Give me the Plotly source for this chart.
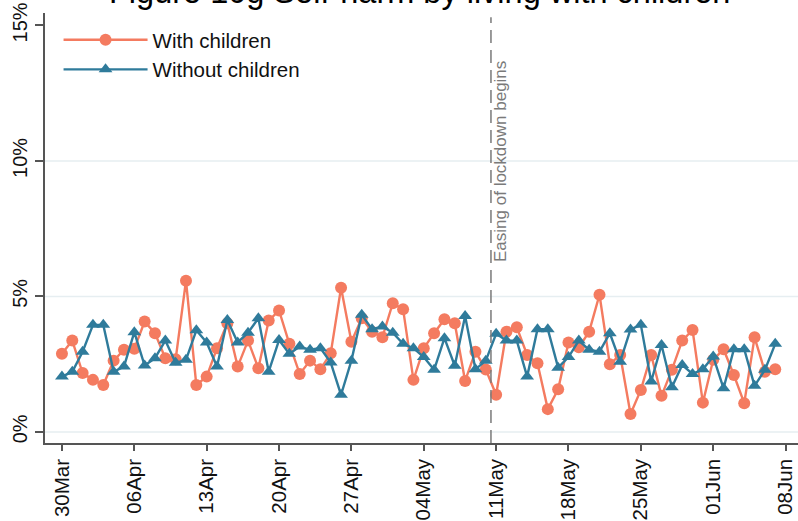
import pandas as pd
import plotly.graph_objects as go

start_date = "2020-03-30"
n_days = 70

with_children = [
    2.88, 3.37, 2.17, 1.92, 1.73, 2.63, 3.03, 3.07, 4.07, 3.64,
    2.72, 2.68, 5.58, 1.73, 2.04, 3.09, 4.01, 2.41, 3.37, 2.35,
    4.11, 4.48, 3.25, 2.14, 2.63, 2.31, 2.90, 5.32, 3.33, 4.19,
    3.70, 3.49, 4.75, 4.53, 1.92, 3.09, 3.64, 4.16, 4.01, 1.88,
    2.96, 2.30, 1.37, 3.70, 3.86, 2.84, 2.53, 0.84, 1.57, 3.30,
    3.12, 3.70, 5.06, 2.50, 2.84, 0.66, 1.55, 2.84, 1.33, 2.29,
    3.37, 3.76, 1.08, 2.66, 3.05, 2.10, 1.06, 3.49, 2.22, 2.31,
]
without_children = [
    2.04, 2.22, 2.96, 3.95, 3.95, 2.22, 2.41, 3.68, 2.45, 2.72,
    3.37, 2.55, 2.66, 3.75, 3.30, 2.41, 4.13, 3.30, 3.66, 4.19,
    2.22, 3.39, 2.88, 3.15, 3.03, 3.09, 2.56, 1.37, 2.63, 4.32,
    3.79, 3.89, 3.66, 3.25, 3.09, 2.76, 2.29, 3.46, 2.44, 4.28,
    2.31, 2.63, 3.62, 3.37, 3.37, 2.04, 3.79, 3.79, 2.37, 2.76,
    3.37, 3.03, 2.96, 3.64, 2.59, 3.78, 3.95, 1.86, 3.21, 1.65,
    2.47, 2.14, 2.31, 2.78, 1.61, 3.05, 3.05, 1.70, 2.29, 3.25,
]
x_tick_dates = ["2020-03-30", "2020-04-06", "2020-04-13", "2020-04-20", "2020-04-27",
                "2020-05-04", "2020-05-11", "2020-05-18", "2020-05-25", "2020-06-01",
                "2020-06-08"]
y_tick_vals = [0, 5, 10, 15]
y_tick_text = ["0%", "5%", "10%", "15%"]
grid_vals = [0, 5, 10]
easing_date = "2020-05-10 12:00"
easing_label = "Easing of lockdown begins"
title_text = "Figure 10g Self-harm by living with children"

dates = pd.date_range(start_date, periods=n_days, freq="D")

ORANGE = "#F47B60"
BLUE = "#2F7B9B"
FONT = "Liberation Sans, Arial, sans-serif"

fig = go.Figure()
fig.add_trace(go.Scatter(
    x=dates, y=with_children, mode="lines+markers", name="With children",
    legendgroup="a",
    line=dict(color=ORANGE, width=2.4),
    marker=dict(symbol="circle", size=12, color=ORANGE),
))
fig.add_trace(go.Scatter(
    x=dates, y=without_children, mode="lines+markers", name="Without children",
    legendgroup="b",
    line=dict(color=BLUE, width=2.4),
    marker=dict(symbol="triangle-up", size=12, color=BLUE),
))

for g in grid_vals:
    fig.add_shape(type="line", xref="paper", x0=0, x1=1, yref="y", y0=g, y1=g,
                  line=dict(color="#E6EEF1", width=1.5), layer="below")

fig.add_shape(type="line", xref="x", x0=easing_date, x1=easing_date,
              yref="paper", y0=0, y1=0.99,
              line=dict(color="#7A7A7A", width=1.5, dash="13px,7px"))
fig.add_annotation(x=easing_date, xref="x", y=0.893, yref="paper",
                   text=easing_label, textangle=-90, showarrow=False,
                   xanchor="left", yanchor="top", xshift=-2,
                   font=dict(family=FONT, size=17, color="#7A7A7A"))

fig.add_annotation(text=title_text, xref="paper", x=0.497, yref="paper", y=1,
                   xanchor="center", yanchor="bottom", showarrow=False, yshift=1,
                   font=dict(family=FONT, size=32.5, color="#000000"))

fig.update_layout(
    width=798, height=521,
    margin=dict(l=45, r=0, t=13, b=78),
    paper_bgcolor="white", plot_bgcolor="white",
    font=dict(family=FONT, color="#111111"),
    showlegend=True,
    legend=dict(x=0.018, y=0.984, xanchor="left", yanchor="top",
                bgcolor="rgba(0,0,0,0)", font=dict(size=20.5, family=FONT),
                itemwidth=84, tracegroupgap=0, traceorder="grouped"),
    xaxis=dict(
        type="date", range=["2020-03-28 08:40", "2020-06-09 04:50"],
        tickvals=x_tick_dates, tickformat="%d%b", tickangle=-90,
        ticks="outside", ticklen=6, tickwidth=1.5, tickcolor="#555555",
        showline=True, linecolor="#555555", linewidth=1.5,
        showgrid=False, zeroline=False, automargin=False,
        tickfont=dict(size=20.5, family=FONT, color="#111111"),
    ),
    yaxis=dict(
        range=[-0.41, 15.46], tickvals=y_tick_vals, ticktext=y_tick_text,
        tickangle=-90, ticks="outside", ticklen=8, tickwidth=1.5, tickcolor="#555555",
        showline=True, linecolor="#555555", linewidth=1.5,
        showgrid=False, zeroline=False, automargin=False,
        tickfont=dict(size=20, family=FONT, color="#111111"),
    ),
)

fig.write_html("out.html", config={"displayModeBar": False},
               post_script="document.body.style.margin='0';")
